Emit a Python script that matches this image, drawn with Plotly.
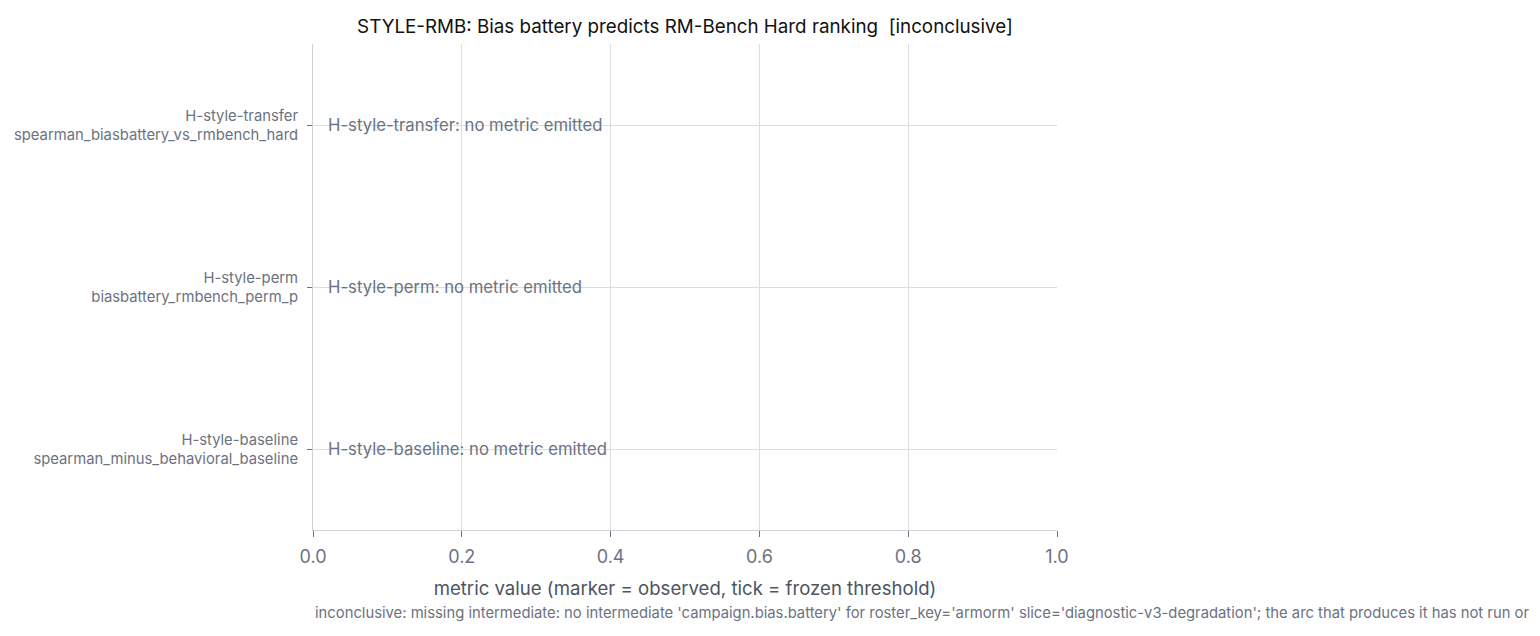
import plotly.graph_objects as go

hypotheses = ["H-style-transfer", "H-style-perm", "H-style-baseline"]
metrics = ["spearman_biasbattery_vs_rmbench_hard", "biasbattery_rmbench_perm_p",
           "spearman_minus_behavioral_baseline"]
observed = [None, None, None]
thresholds = [None, None, None]
x_ticks = [0.0, 0.2, 0.4, 0.6, 0.8, 1.0]
x_tick_labels = ["0.0", "0.2", "0.4", "0.6", "0.8", "1.0"]
title_text = "STYLE-RMB: Bias battery predicts RM-Bench Hard ranking  [inconclusive]"
footer_text = ("inconclusive: missing intermediate: no intermediate 'campaign.bias.battery' for "
               "roster_key='armorm' slice='diagnostic-v3-degradation'; the arc that produces it has not run or")

labels = [f"{h}<br>{m}" for h, m in zip(hypotheses, metrics)]

FONT = "Inter, Noto Sans, sans-serif"
GRID = "#dcdce6"
AXIS = "#cfd0da"

fig = go.Figure()
fig.add_trace(go.Scatter(x=observed, y=labels, mode="markers", showlegend=False,
                         marker=dict(size=12, color="#4f46e5")))

annotations = []
for h, lab in zip(hypotheses, labels):
    annotations.append(dict(x=0.017, y=lab, xref="x", yref="y", xanchor="left", yanchor="middle",
                            text=f"{h}: no metric emitted", showarrow=False,
                            font=dict(family=FONT, size=16.7, color="#6b7280")))
annotations.append(dict(x=0, y=-0.17, xref="paper", yref="paper", xanchor="left", yanchor="middle",
                        text=footer_text, showarrow=False,
                        font=dict(family=FONT, size=14.8, color="#6b7280")))

fig.update_layout(
    width=1540, height=636,
    margin=dict(l=313, r=483, t=44, b=106),
    paper_bgcolor="white", plot_bgcolor="#fefeff",
    font=dict(family=FONT, color="#6b7280"),
    title=dict(text=title_text, x=0.4448, xanchor="center", y=0.959, yanchor="middle",
               font=dict(family=FONT, size=18.8, color="#111111")),
    xaxis=dict(range=[0, 1], tickvals=x_ticks, ticktext=x_tick_labels,
               showgrid=True, gridcolor=GRID, zeroline=False,
               showline=True, linecolor=AXIS, linewidth=1,
               ticks="outside", ticklen=6, tickcolor="#6b7280",
               ticklabelstandoff=4,
               tickfont=dict(family=FONT, size=18, color="#6b7280"),
               title=dict(text="metric value (marker = observed, tick = frozen threshold)",
                          font=dict(family=FONT, size=18.6, color="#4b5563"), standoff=16)),
    yaxis=dict(type="category", categoryorder="array", categoryarray=labels,
               autorange=False, range=[2.5, -0.5],
               showgrid=True, gridcolor=GRID, zeroline=False,
               showline=True, linecolor=AXIS, linewidth=1,
               ticks="outside", ticklen=5, tickcolor="#6b7280",
               ticklabelstandoff=6,
               tickfont=dict(family=FONT, size=14.8, color="#6b7280")),
    annotations=annotations,
)

fig.write_html("out.html")
